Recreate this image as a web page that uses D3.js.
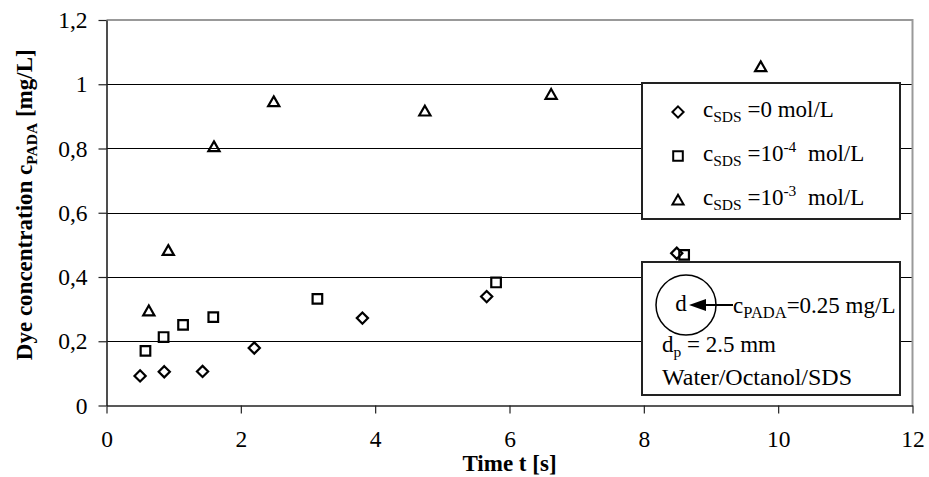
<!DOCTYPE html>
<html>
<head>
<meta charset="utf-8">
<script src="https://cdn.jsdelivr.net/npm/d3@7"></script>
<style>
  html, body { margin: 0; padding: 0; background: #fff; }
  svg text { font-family: "Liberation Serif", "Times New Roman", serif; fill: #000; }
</style>
</head>
<body>
<svg id="chart" width="929" height="477"></svg>
<script>
// Dye concentration vs. time for three SDS concentrations
const timeSds0 = [0.50, 0.86, 1.43, 2.20, 3.81, 5.66, 8.49];
const concSds0 = [0.092, 0.105, 0.106, 0.179, 0.272, 0.339, 0.474];

const timeSds4 = [0.58, 0.85, 1.14, 1.59, 3.14, 5.80, 8.60];
const concSds4 = [0.170, 0.213, 0.251, 0.275, 0.332, 0.383, 0.469];

const timeSds3 = [0.63, 0.92, 1.60, 2.49, 4.74, 6.62, 9.74];
const concSds3 = [0.295, 0.483, 0.806, 0.946, 0.917, 0.969, 1.055];

const xTicks = [0, 2, 4, 6, 8, 10, 12];
const yTicks = [0, 0.2, 0.4, 0.6, 0.8, 1.0, 1.2];

const seriesShapes = ["diamond", "square", "triangle"];
const seriesExponent = ["0", "-4", "-3"];   // "0" means plain zero, otherwise power of ten

const series = [
  { shape: seriesShapes[0], t: timeSds0, c: concSds0 },
  { shape: seriesShapes[1], t: timeSds4, c: concSds4 },
  { shape: seriesShapes[2], t: timeSds3, c: concSds3 }
];

const svg = d3.select("#chart");
const FS = 23, SUB = 15.5;

const x = d3.scaleLinear().domain([0, 12]).range([106.5, 912.5]);
const y = d3.scaleLinear().domain([0, 1.2]).range([405.5, 20]);

const deLocale = d3.formatLocale({ decimal: ",", thousands: ".", grouping: [3], currency: ["", ""] });
const fmtY = deLocale.format(".1~f");

// horizontal gridlines
svg.append("g").selectAll("line").data(yTicks.filter(v => v > 0 && v < 1.2)).join("line")
  .attr("x1", x(0)).attr("x2", x(12))
  .attr("y1", d => Math.round(y(d)) + 0.5).attr("y2", d => Math.round(y(d)) + 0.5)
  .attr("stroke", "#000").attr("stroke-width", 1);

// plot area frame (top and right)
svg.append("path")
  .attr("d", `M${x(0)},${y(1.2)} H${x(12)} V${y(0)}`)
  .attr("fill", "none").attr("stroke", "#999").attr("stroke-width", 2);

// axes
const yAxis = d3.axisLeft(y).tickValues(yTicks).tickFormat(fmtY).tickSize(8).tickPadding(11).tickSizeOuter(0);
const xAxis = d3.axisBottom(x).tickValues(xTicks).tickFormat(d3.format("d")).tickSize(8).tickPadding(17).tickSizeOuter(0);

const gy = svg.append("g").attr("transform", `translate(${x(0)},0)`).call(yAxis);
const gx = svg.append("g").attr("transform", `translate(0,${y(0)})`).call(xAxis);
[gy, gx].forEach(g => {
  g.select(".domain").attr("stroke", "#222").attr("stroke-width", 1.6);
  g.selectAll(".tick line").attr("stroke", "#222").attr("stroke-width", 1.2);
  g.selectAll(".tick text").attr("font-family", "Liberation Serif").attr("font-size", FS + 0.5).attr("fill", "#000");
});

// marker shapes
function shapePath(shape) {
  if (shape === "diamond") return "M0,-5.6L5.6,0L0,5.6L-5.6,0Z";
  if (shape === "square") return "M-4.8,-4.8H4.8V4.8H-4.8Z";
  return "M0,-5.2L5.6,4.6H-5.6Z";
}

series.forEach(s => {
  svg.append("g").selectAll("path").data(d3.zip(s.t, s.c)).join("path")
    .attr("transform", d => `translate(${x(d[0])},${y(d[1])})`)
    .attr("d", shapePath(s.shape))
    .attr("fill", "none").attr("stroke", "#000").attr("stroke-width", 2.2)
    .attr("stroke-linejoin", "miter");
});

// legend
const lg = svg.append("g");
lg.append("rect").attr("x", 642).attr("y", 83).attr("width", 258).attr("height", 136)
  .attr("fill", "#fff").attr("stroke", "#222").attr("stroke-width", 2);
const rowBase = [117, 161, 205];
series.forEach((s, i) => {
  lg.append("path").attr("transform", `translate(678,${rowBase[i] - 5})`)
    .attr("d", shapePath(s.shape)).attr("fill", "none").attr("stroke", "#000").attr("stroke-width", 2);
  const t = lg.append("text").attr("x", 703).attr("y", rowBase[i]).attr("font-size", FS);
  t.append("tspan").text("c");
  t.append("tspan").attr("font-size", SUB).attr("dy", 5).text("SDS");
  if (seriesExponent[i] === "0") {
    t.append("tspan").attr("dy", -5).text(" =0 mol/L");
  } else {
    t.append("tspan").attr("dy", -5).text(" =10");
    t.append("tspan").attr("font-size", SUB).attr("dy", -9).text(seriesExponent[i]);
    t.append("tspan").attr("dy", 9).attr("dx", 6).text(" mol/L");
  }
});

// particle annotation
const an = svg.append("g");
an.append("rect").attr("x", 642).attr("y", 262).attr("width", 258).attr("height", 133)
  .attr("fill", "#fff").attr("stroke", "#222").attr("stroke-width", 2);
an.append("circle").attr("cx", 686).attr("cy", 305).attr("r", 30)
  .attr("fill", "none").attr("stroke", "#000").attr("stroke-width", 1.5);
an.append("text").attr("x", 681).attr("y", 311).attr("text-anchor", "middle").attr("font-size", FS).text("d");
an.append("line").attr("x1", 704).attr("x2", 733).attr("y1", 305).attr("y2", 305)
  .attr("stroke", "#000").attr("stroke-width", 2);
an.append("path").attr("d", "M689,305L706,299V311Z").attr("fill", "#000");
const ct = an.append("text").attr("x", 733).attr("y", 313).attr("font-size", FS);
ct.append("tspan").text("c");
ct.append("tspan").attr("font-size", 16.5).attr("dy", 5).text("PADA");
ct.append("tspan").attr("dy", -5).text("=0.25 mg/L");
const dt = an.append("text").attr("x", 662).attr("y", 352).attr("font-size", FS);
dt.append("tspan").text("d");
dt.append("tspan").attr("font-size", SUB).attr("dy", 5).text("p");
dt.append("tspan").attr("dy", -5).text(" = 2.5 mm");
an.append("text").attr("x", 662).attr("y", 385).attr("font-size", 24).text("Water/Octanol/SDS");

// axis titles
svg.append("text").attr("x", (x(0) + x(12)) / 2).attr("y", 471).attr("text-anchor", "middle")
  .attr("font-size", FS).attr("font-weight", "bold").text("Time t [s]");

const yt = svg.append("text")
  .attr("transform", `translate(32,${(y(0) + y(1.2)) / 2 - 8}) rotate(-90)`)
  .attr("text-anchor", "middle").attr("font-size", FS).attr("font-weight", "bold");
yt.append("tspan").text("Dye concentration c");
yt.append("tspan").attr("font-size", SUB).attr("dy", 5).text("PADA");
yt.append("tspan").attr("dy", -5).text(" [mg/L]");
</script>
</body>
</html>
